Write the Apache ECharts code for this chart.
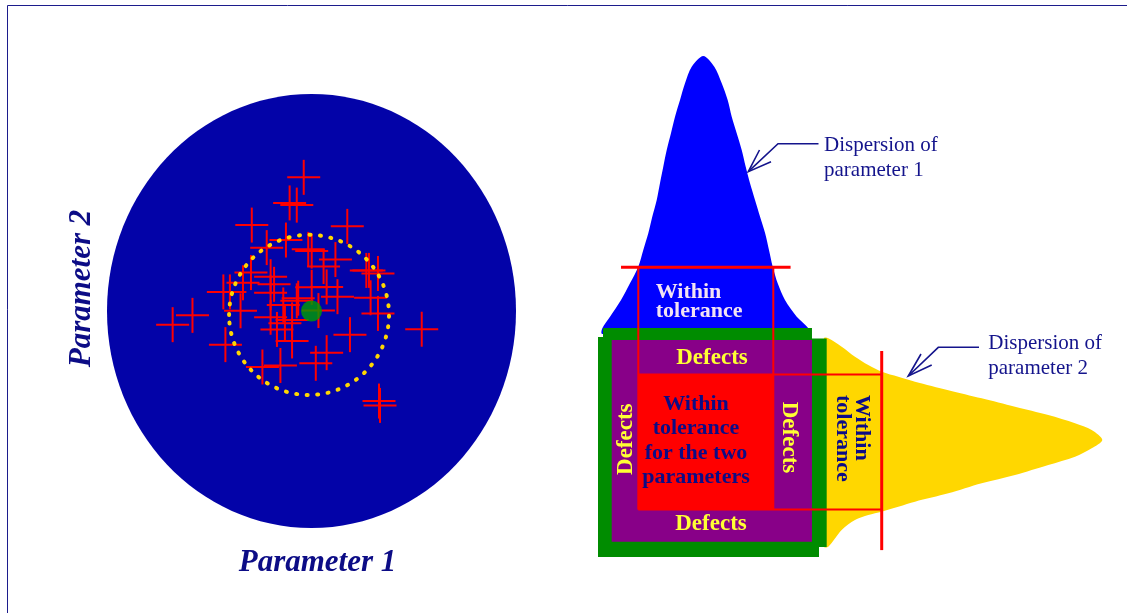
<!DOCTYPE html>
<html><head><meta charset="utf-8">
<script src="https://cdn.jsdelivr.net/npm/echarts@6/dist/echarts.min.js"></script>
<style>html,body{margin:0;padding:0;background:#fff}#c{width:1127px;height:613px}</style>
</head><body><div id="c"></div>
<script>
// ---- Left panel: measured parts (parameter 1, parameter 2) ----
const crossParam1 = [-0.038,-0.107,-0.072,-0.292,0.175,-0.125,-0.219,-0.016,0.001,0.117,0.059,0.268,0.281,0.325,-0.296,-0.200,-0.183,-0.335,-0.431,-0.399,0.001,0.074,-0.200,0.127,0.289,-0.065,-0.072,-0.138,-0.347,0.034,0.325,-0.582,-0.679,-0.200,-0.095,-0.130,-0.169,0.188,0.539,-0.095,-0.421,0.074,0.021,-0.240,-0.152,0.330,0.335];
const crossParam2 = [0.616,0.498,0.488,0.396,0.390,0.327,0.292,0.284,0.276,0.237,0.205,0.187,0.187,0.173,0.177,0.158,0.123,0.130,0.088,0.088,0.109,0.111,0.084,0.066,0.061,0.059,0.047,0.028,0.001,0.002,-0.011,-0.020,-0.063,-0.029,-0.041,-0.057,-0.085,-0.109,-0.084,-0.138,-0.155,-0.192,-0.241,-0.258,-0.251,-0.415,-0.435];
const targetValue = [0, 0];
const fieldEllipse = [0, 0, 1, 1];               // centre p1, centre p2, radius p1, radius p2
const processSpread = [-0.012, -0.018, 0.391, 0.369];

// ---- Right panel: dispersion of parameter 1 (blue bell) ----
const bell1Param  = [-1.533,-1.533,-1.419,-1.256,-1.123,-1.000,-0.926,-0.852,-0.793,-0.727,-0.679,-0.630,-0.579,-0.516,-0.456,-0.382,-0.308,-0.209,-0.037,0.126,0.236,0.324,0.384,0.458,0.532,0.591,0.655,0.729,0.804,0.879,0.936,0.991,1.065,1.173,1.347,1.519,1.519];
const bell1Height = [1.60,1.686,1.858,2.105,2.353,2.599,2.846,3.093,3.339,3.587,3.834,4.080,4.327,4.575,4.821,5.068,5.316,5.561,5.720,5.561,5.316,5.068,4.821,4.575,4.327,4.080,3.834,3.587,3.339,3.093,2.846,2.599,2.353,2.105,1.858,1.686,1.60];
// ---- dispersion of parameter 2 (yellow bell) ----
const bell2Height = [1.75,1.815,2.013,2.210,2.407,2.606,2.852,3.099,3.593,4.087,4.581,5.074,5.470,5.717,5.874,5.717,5.470,5.074,4.581,4.087,3.593,3.099,2.606,2.407,2.210,2.013,1.815,1.75];
const bell2Param  = [1.538,1.538,1.413,1.265,1.142,1.043,0.969,0.895,0.770,0.649,0.524,0.401,0.279,0.179,0.031,-0.092,-0.216,-0.339,-0.487,-0.610,-0.759,-0.883,-1.031,-1.080,-1.154,-1.302,-1.550,-1.550];
// ---- zones ----
const frameParam1 = [-1.523,1.573,1.573,1.791,1.791,1.677,1.677,-1.597,-1.597,-1.523];
const frameParam2 = [1.690,1.690,1.535,1.535,-1.554,-1.554,-1.702,-1.702,1.557,1.557];
const defectParam1 = [-1.394, 1.573];
const defectParam2 = [-1.476, 1.513];
const tolParam1 = [-1, 1];
const tolParam2 = [-1, 1];
const marker1Level = 2.59;
const marker1Span = [-1.256, 1.256];
const marker2Level = 2.606;
const marker2Span = [-1.60, 1.35];

const NAVY = '#0c0c86';
const SERIF = '"Liberation Serif","Times New Roman",serif';

function polySeries(xs, ys, color, z, smooth) {
  return {
    type: 'custom', xAxisIndex: 1, yAxisIndex: 1, z: z, silent: true,
    data: xs.map((x, i) => [x, ys[i]]),
    renderItem(params, api) {
      if (params.dataIndex !== 0) return null;
      const pts = xs.map((x, i) => api.coord([x, ys[i]]));
      return { type: 'polygon', shape: { points: pts, smooth: smooth }, style: { fill: color } };
    }
  };
}
function rectSeries(xr, yr, color, z) {
  return {
    type: 'custom', xAxisIndex: 1, yAxisIndex: 1, z: z, silent: true,
    data: [[xr[0], yr[0], xr[1], yr[1]]],
    renderItem(params, api) {
      const a = api.coord([api.value(0), api.value(3)]);
      const b = api.coord([api.value(2), api.value(1)]);
      return { type: 'rect', shape: { x: a[0], y: a[1], width: b[0] - a[0], height: b[1] - a[1] }, style: { fill: color } };
    }
  };
}
function lineSeries(segs, width, z) {
  return {
    type: 'custom', xAxisIndex: 1, yAxisIndex: 1, z: z, silent: true,
    data: segs,
    renderItem(params, api) {
      const a = api.coord([api.value(0), api.value(1)]);
      const b = api.coord([api.value(2), api.value(3)]);
      return { type: 'line', shape: { x1: a[0], y1: a[1], x2: b[0], y2: b[1] }, style: { stroke: '#ff0000', lineWidth: width } };
    }
  };
}
function ellipseSeries(e, style, z) {
  return {
    type: 'custom', xAxisIndex: 0, yAxisIndex: 0, z: z, silent: true,
    data: [e],
    renderItem(params, api) {
      const c = api.coord([api.value(0), api.value(1)]);
      const s = api.size([api.value(2), api.value(3)]);
      return { type: 'ellipse', shape: { cx: c[0], cy: c[1], rx: s[0], ry: s[1] }, style: style };
    }
  };
}

const thinLines = [
  [tolParam1[0], marker1Level, tolParam1[0], tolParam2[0]],
  [tolParam1[1], marker1Level, tolParam1[1], tolParam2[0]],
  [tolParam1[0], tolParam2[1], marker2Level, tolParam2[1]],
  [tolParam1[0], tolParam2[0], marker2Level, tolParam2[0]]
];
const thickLines = [
  [marker1Span[0], marker1Level, marker1Span[1], marker1Level],
  [marker2Level, marker2Span[0], marker2Level, marker2Span[1]]
];

function txt(text, x, y, opt) {
  return Object.assign({
    type: 'text', x: x, y: y, z: 100, silent: true,
    style: Object.assign({ text: text, align: 'center', verticalAlign: 'middle' }, opt.style)
  }, opt.el || {});
}

const chart = echarts.init(document.getElementById('c'), null, { renderer: 'canvas' });
chart.setOption({
  animation: false,
  backgroundColor: '#ffffff',
  grid: [
    { left: 107, top: 94, width: 409, height: 434 },
    { left: 570.8, top: 37.1, width: 540, height: 540 }
  ],
  xAxis: [
    { gridIndex: 0, type: 'value', min: -1, max: 1, show: false },
    { gridIndex: 1, type: 'value', min: -2, max: 6, show: false }
  ],
  yAxis: [
    { gridIndex: 0, type: 'value', min: -1, max: 1, show: false },
    { gridIndex: 1, type: 'value', min: -2, max: 6, show: false }
  ],
  series: [
    ellipseSeries(fieldEllipse, { fill: '#0303a8' }, 2),
    {
      type: 'custom', xAxisIndex: 0, yAxisIndex: 0, z: 3, silent: true,
      data: crossParam1.map((v, i) => [v, crossParam2[i]]),
      renderItem(params, api) {
        const p = api.coord([api.value(0), api.value(1)]);
        const st = { stroke: '#ff0000', lineWidth: 2 };
        return { type: 'group', children: [
          { type: 'line', shape: { x1: p[0] - 16.5, y1: p[1], x2: p[0] + 16.5, y2: p[1] }, style: st },
          { type: 'line', shape: { x1: p[0], y1: p[1] - 17.5, x2: p[0], y2: p[1] + 17.5 }, style: st }
        ]};
      }
    },
    ellipseSeries(processSpread, { fill: 'none', stroke: '#ffd700', lineWidth: 4, lineDash: [1, 9.5], lineCap: 'round' }, 4),
    {
      type: 'scatter', xAxisIndex: 0, yAxisIndex: 0, z: 5, silent: true,
      data: [targetValue], symbol: 'circle', symbolSize: 21,
      itemStyle: { color: '#00a000' }
    },
    polySeries(bell1Param, bell1Height, '#0000ff', 2, 0.3),
    polySeries(bell2Height, bell2Param, '#ffd700', 2, 0.3),
    polySeries(frameParam1, frameParam2, '#008c00', 3, 0),
    rectSeries(defectParam1, defectParam2, '#880088', 4),
    rectSeries(tolParam1, tolParam2, '#ff0000', 5),
    lineSeries(thinLines, 2, 6),
    lineSeries(thickLines, 3, 7)
  ],
  graphic: [
    { type: 'rect', z: 100, silent: true, shape: { x: 7.5, y: 5.5, width: 1130, height: 620 }, style: { fill: 'none', stroke: '#1c1c8c', lineWidth: 1 } },
    txt('Parameter 1', 317.5, 562.5, { style: { font: 'italic bold 31px ' + SERIF, fill: NAVY } }),
    txt('Parameter 2', 82, 288.5, { style: { font: 'italic bold 31px ' + SERIF, fill: NAVY }, el: { rotation: Math.PI / 2 } }),
    txt('Within\ntolerance', 655.7, 301.5, { style: { font: 'bold 22px ' + SERIF, fill: '#f3e3f3', align: 'left', lineHeight: 19 } }),
    txt('Defects', 712, 358.4, { style: { font: 'bold 23px ' + SERIF, fill: '#ffff33' } }),
    txt('Defects', 711, 524, { style: { font: 'bold 23px ' + SERIF, fill: '#ffff33' } }),
    txt('Defects', 626, 439.2, { style: { font: 'bold 23px ' + SERIF, fill: '#ffff33' }, el: { rotation: Math.PI / 2 } }),
    txt('Defects', 789, 437.5, { style: { font: 'bold 23px ' + SERIF, fill: '#ffff33' }, el: { rotation: -Math.PI / 2 } }),
    txt('Within\ntolerance\nfor the two\nparameters', 696, 441, { style: { font: 'bold 22px ' + SERIF, fill: NAVY, lineHeight: 24.5 } }),
    txt('Within\ntolerance', 852, 395, { style: { font: 'bold 22px ' + SERIF, fill: NAVY, align: 'left', lineHeight: 19 }, el: { rotation: -Math.PI / 2 } }),
    txt('Dispersion of\nparameter 1', 824, 158, { style: { font: '21px ' + SERIF, fill: '#14148c', align: 'left', lineHeight: 24.6 } }),
    txt('Dispersion of\nparameter 2', 988.3, 356, { style: { font: '21px ' + SERIF, fill: '#14148c', align: 'left', lineHeight: 24.6 } }),
    { type: 'polyline', z: 100, silent: true, shape: { points: [[818.5, 143.7], [778, 143.7], [748.3, 171.7]] }, style: { fill: 'none', stroke: '#14148c', lineWidth: 1.6 } },
    { type: 'polyline', z: 100, silent: true, shape: { points: [[759.5, 150], [748.3, 171.7], [771, 161.7]] }, style: { fill: 'none', stroke: '#14148c', lineWidth: 1.6 } },
    { type: 'polyline', z: 100, silent: true, shape: { points: [[979, 347.3], [938.3, 347.3], [908.3, 376]] }, style: { fill: 'none', stroke: '#14148c', lineWidth: 1.6 } },
    { type: 'polyline', z: 100, silent: true, shape: { points: [[921, 354], [908.3, 376], [931.7, 365]] }, style: { fill: 'none', stroke: '#14148c', lineWidth: 1.6 } }
  ]
});
</script>
</body></html>
